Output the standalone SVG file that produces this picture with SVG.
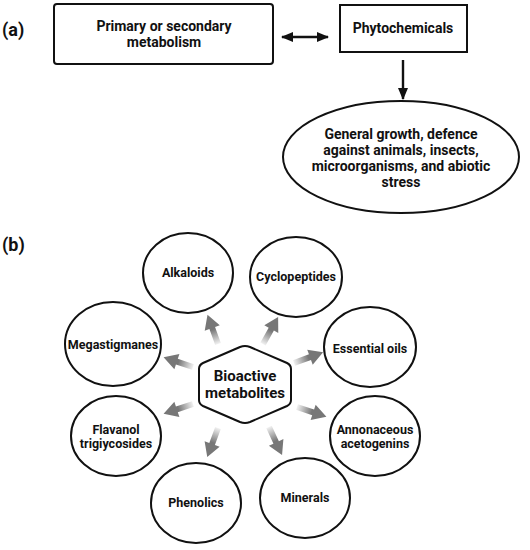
<svg xmlns="http://www.w3.org/2000/svg" width="530" height="550" viewBox="0 0 530 550">
<style>
.t{font-family:Roboto,"Liberation Sans",sans-serif;font-weight:bold;fill:#111;text-anchor:middle}
.big{font-size:14px}
.sm{font-size:12.5px}
.lbl{font-family:Roboto,"Liberation Sans",sans-serif;font-weight:bold;font-size:18px;fill:#111}
.shape{fill:#fff;stroke:#111;stroke-width:2}
.blk{stroke:#111;stroke-width:2.4;fill:none}
</style>
<defs>
<marker id="ah" viewBox="0 0 12 10" refX="11" refY="5" markerWidth="5" markerHeight="4.4" orient="auto-start-reverse" markerUnits="strokeWidth">
<path d="M0,0 L12,5 L0,10 Z" fill="#111"/>
</marker>
<linearGradient id="fade" x1="0" y1="0" x2="1" y2="0">
<stop offset="0" stop-color="#777" stop-opacity="0.1"/>
<stop offset="0.5" stop-color="#777" stop-opacity="1"/>
<stop offset="1" stop-color="#777" stop-opacity="1"/>
</linearGradient>
<path id="ga" d="M0,-3 L17,-3 L17,-8 L31,0 L17,8 L17,3 L0,3 Z" fill="url(#fade)"/>
</defs>
<rect width="530" height="550" fill="#fff"/>
<text class="lbl" x="2" y="36">(a)</text>
<text class="lbl" x="2" y="251">(b)</text>
<g id="connectors">
<line class="blk" x1="282" y1="37" x2="328" y2="37" marker-start="url(#ah)" marker-end="url(#ah)"/>
<line class="blk" x1="403" y1="60" x2="403" y2="99" marker-end="url(#ah)"/>
<use href="#ga" transform="translate(218,344) rotate(-109.8)"/>
<use href="#ga" transform="translate(263,344) rotate(-60.8)"/>
<use href="#ga" transform="translate(193,367) rotate(-161.6)"/>
<use href="#ga" transform="translate(294,363) rotate(-20.1)"/>
<use href="#ga" transform="translate(193,404) rotate(161.6)"/>
<use href="#ga" transform="translate(297,407) rotate(18.4)"/>
<use href="#ga" transform="translate(218,428) rotate(110.3)"/>
<use href="#ga" transform="translate(269,427) rotate(65.1)"/>
</g>
<g id="primary">
<rect class="shape" x="54" y="4" width="219" height="60" rx="3"/>
<text class="t big" x="164" y="31">Primary or secondary</text>
<text class="t big" x="164" y="47">metabolism</text>
</g>
<g id="phyto">
<rect class="shape" x="340" y="5" width="127" height="47"/>
<text class="t big" x="403" y="33">Phytochemicals</text>
</g>
<g id="general">
<ellipse class="shape" cx="401" cy="157" rx="118" ry="56"/>
<text class="t big" x="401" y="139">General growth, defence</text>
<text class="t big" x="401" y="155">against animals, insects,</text>
<text class="t big" x="401" y="171">microorganisms, and abiotic</text>
<text class="t big" x="401" y="187">stress</text>
</g>
<g id="bioactive">
<path class="shape" d="M240,347 Q245,345 250,347 L287,363 Q291,365 291,369 L291,400 Q291,404 287,406 L250,422 Q245,424 240,422 L203,406 Q199,404 199,400 L199,369 Q199,365 203,363 Z"/>
<text class="t" style="font-size:15px" x="245" y="381">Bioactive</text>
<text class="t" style="font-size:15px" x="245" y="398">metabolites</text>
</g>
<g id="alkaloids">
<ellipse class="shape" cx="188" cy="273" rx="45" ry="40"/>
<text class="t sm" x="188" y="277">Alkaloids</text>
</g>
<g id="cyclopeptides">
<ellipse class="shape" cx="296" cy="277" rx="46" ry="40"/>
<text class="t sm" x="296" y="281">Cyclopeptides</text>
</g>
<g id="megastigmanes">
<ellipse class="shape" cx="113" cy="344" rx="48" ry="42"/>
<text class="t sm" x="113" y="349">Megastigmanes</text>
</g>
<g id="essential">
<ellipse class="shape" cx="370" cy="347" rx="46" ry="40"/>
<text class="t sm" x="370" y="353">Essential oils</text>
</g>
<g id="flavanol">
<ellipse class="shape" cx="116" cy="436" rx="45" ry="40"/>
<text class="t sm" x="116" y="434">Flavanol</text>
<text class="t sm" x="116" y="448">trigiycosides</text>
</g>
<g id="annonaceous">
<ellipse class="shape" cx="375" cy="436" rx="45" ry="40"/>
<text class="t sm" x="375" y="434">Annonaceous</text>
<text class="t sm" x="375" y="448">acetogenins</text>
</g>
<g id="phenolics">
<ellipse class="shape" cx="196" cy="503" rx="45" ry="40"/>
<text class="t sm" x="196" y="507">Phenolics</text>
</g>
<g id="minerals">
<ellipse class="shape" cx="305" cy="498" rx="45" ry="40"/>
<text class="t sm" x="305" y="502">Minerals</text>
</g>
</svg>
